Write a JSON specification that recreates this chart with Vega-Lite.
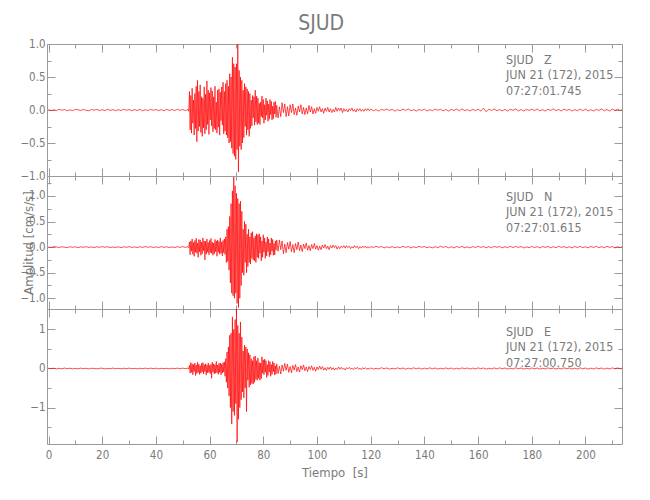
{
"$schema":"https://vega.github.io/schema/vega-lite/v6.json",
"padding":{"left":19,"top":12,"right":27,"bottom":20},
"bounds":"flush",
"title":{"text":"SJUD","anchor":"middle","fontSize":21,"font":"Liberation Sans Narrow, DejaVu Sans Condensed, Roboto Condensed, Liberation Sans, sans-serif","fontWeight":"normal","color":"#7a7a7a","offset":4},
"config":{
 "view":{"stroke":"#9a9a9a","strokeWidth":1},
 "axis":{"domain":false,"grid":false,"tickColor":"#9a9a9a","tickWidth":1,"labelColor":"#7a7a7a","labelFont":"Liberation Sans Narrow, DejaVu Sans Condensed, Roboto Condensed, Liberation Sans, sans-serif","labelFontSize":11.5,"titleFont":"Liberation Sans Narrow, DejaVu Sans Condensed, Roboto Condensed, Liberation Sans, sans-serif","titleFontSize":13,"titleFontWeight":"normal","titleColor":"#7a7a7a","labelFlush":false}
},
"spacing":0,
"data":{"values":[
{"t":0,"z":0.006,"n":0.004,"e":0.008},{"t":1,"z":-0.01,"n":-0.008,"e":-0.004},{"t":2,"z":0.003,"n":0.009,"e":0.006},{"t":3,"z":-0.008,"n":0.002,"e":-0.01},{"t":4,"z":0.012,"n":-0.007,"e":0.004},{"t":5,"z":-0.004,"n":0.006,"e":-0.008},{"t":6,"z":0.007,"n":-0.003,"e":0.011},{"t":7,"z":-0.011,"n":-0.009,"e":-0.005},{"t":8,"z":0.002,"n":0.008,"e":0.007},{"t":9,"z":-0.009,"n":-0.004,"e":-0.009},
{"t":10,"z":0.01,"n":0.006,"e":0.003},{"t":11,"z":0.003,"n":-0.01,"e":-0.008},{"t":12,"z":-0.007,"n":0.005,"e":0.009},{"t":13,"z":0.009,"n":-0.004,"e":-0.004},{"t":14,"z":-0.005,"n":0.008,"e":0.006},{"t":15,"z":-0.012,"n":-0.006,"e":-0.011},{"t":16,"z":0.008,"n":0.003,"e":0.005},{"t":17,"z":-0.004,"n":-0.009,"e":0.002},{"t":18,"z":0.01,"n":0.007,"e":-0.009},{"t":19,"z":-0.008,"n":-0.005,"e":0.004},
{"t":20,"z":0.004,"n":0.01,"e":0.008},{"t":21,"z":-0.009,"n":-0.003,"e":-0.01},{"t":22,"z":0.011,"n":0.007,"e":0.003},{"t":23,"z":-0.006,"n":-0.009,"e":-0.007},{"t":24,"z":0.007,"n":0.002,"e":0.01},{"t":25,"z":-0.01,"n":-0.007,"e":-0.005},{"t":26,"z":0.005,"n":0.006,"e":0.004},{"t":27,"z":-0.008,"n":-0.01,"e":-0.009},{"t":28,"z":0.012,"n":0.006,"e":0.007},{"t":29,"z":-0.004,"n":-0.004,"e":-0.006},
{"t":30,"z":0.008,"n":0.009,"e":0.01},{"t":31,"z":-0.01,"n":-0.006,"e":-0.008},{"t":32,"z":0.006,"n":0.004,"e":0.003},{"t":33,"z":-0.007,"n":-0.009,"e":-0.01},{"t":34,"z":0.009,"n":0.007,"e":0.006},{"t":35,"z":-0.011,"n":-0.005,"e":-0.004},{"t":36,"z":0.004,"n":0.01,"e":0.009},{"t":37,"z":-0.008,"n":-0.003,"e":-0.007},{"t":38,"z":0.01,"n":0.008,"e":0.009},{"t":39,"z":-0.005,"n":-0.008,"e":-0.005},
{"t":40,"z":0.008,"n":0.004,"e":0.008},{"t":41,"z":-0.009,"n":-0.007,"e":-0.01},{"t":42,"z":0.006,"n":0.009,"e":0.004},{"t":43,"z":-0.012,"n":-0.005,"e":-0.008},{"t":44,"z":0.01,"n":0.006,"e":0.006},{"t":45,"z":-0.006,"n":-0.01,"e":-0.011},{"t":46,"z":0.008,"n":0.004,"e":0.007},{"t":47,"z":-0.009,"n":-0.008,"e":-0.004},{"t":48,"z":0.011,"n":0.007,"e":0.009},{"t":49,"z":-0.005,"n":-0.005,"e":-0.006},
{"t":50,"z":0.007,"n":0.009,"e":0.008},{"t":51,"z":-0.01,"n":-0.006,"e":-0.005},{"t":52,"z":0.01,"n":0.01,"e":0.01},{"t":52.25,"z":-0.02,"n":-0.01,"e":-0.01},
{"t":52.5,"z":0.28,"n":0.1,"e":0.08},{"t":52.75,"z":-0.3,"n":-0.15,"e":-0.12},{"t":53,"z":0.22,"n":0.12,"e":0.15},{"t":53.25,"z":-0.35,"n":-0.08,"e":-0.1},{"t":53.5,"z":0.33,"n":0.16,"e":0.12},{"t":53.75,"z":-0.2,"n":-0.14,"e":-0.16},{"t":54,"z":0.15,"n":0.09,"e":0.1},{"t":54.25,"z":-0.38,"n":-0.18,"e":-0.08},{"t":54.5,"z":0.25,"n":0.13,"e":0.14},{"t":54.75,"z":-0.28,"n":-0.1,"e":-0.18},
{"t":55,"z":0.36,"n":0.17,"e":0.09},{"t":55.25,"z":-0.48,"n":-0.12,"e":-0.13},{"t":55.5,"z":0.45,"n":0.08,"e":0.16},{"t":55.75,"z":-0.32,"n":-0.2,"e":-0.1},{"t":56,"z":0.28,"n":0.15,"e":0.11},{"t":56.25,"z":-0.25,"n":-0.09,"e":-0.15},{"t":56.5,"z":0.38,"n":0.14,"e":0.07},{"t":56.75,"z":-0.34,"n":-0.16,"e":-0.12},{"t":57,"z":0.2,"n":0.1,"e":0.13},{"t":57.25,"z":-0.4,"n":-0.13,"e":-0.09},
{"t":57.5,"z":0.18,"n":0.18,"e":0.15},{"t":57.75,"z":-0.27,"n":-0.07,"e":-0.14},{"t":58,"z":0.35,"n":0.12,"e":0.1},{"t":58.25,"z":-0.36,"n":-0.25,"e":-0.08},{"t":58.5,"z":0.24,"n":0.11,"e":0.12},{"t":58.75,"z":-0.3,"n":-0.14,"e":-0.17},{"t":59,"z":0.44,"n":0.16,"e":0.09},{"t":59.25,"z":-0.22,"n":-0.1,"e":-0.11},{"t":59.5,"z":0.3,"n":0.09,"e":0.14},{"t":59.75,"z":-0.37,"n":-0.15,"e":-0.1},
{"t":60,"z":0.26,"n":0.13,"e":0.08},{"t":60.25,"z":-0.15,"n":-0.11,"e":-0.13},{"t":60.5,"z":0.34,"n":0.17,"e":0.11},{"t":60.75,"z":-0.24,"n":-0.12,"e":-0.25},{"t":61,"z":0.29,"n":0.1,"e":0.16},{"t":61.25,"z":-0.33,"n":-0.16,"e":-0.09},{"t":61.5,"z":0.2,"n":0.08,"e":0.12},{"t":61.75,"z":-0.28,"n":-0.13,"e":-0.14},{"t":62,"z":0.36,"n":0.15,"e":0.1},{"t":62.25,"z":-0.3,"n":-0.09,"e":-0.12},
{"t":62.5,"z":0.12,"n":0.12,"e":0.18},{"t":62.75,"z":-0.35,"n":-0.18,"e":-0.11},{"t":63,"z":0.3,"n":0.14,"e":0.09},{"t":63.25,"z":-0.26,"n":-0.1,"e":-0.15},{"t":63.5,"z":0.32,"n":0.11,"e":0.13},{"t":63.75,"z":-0.38,"n":-0.14,"e":-0.1},{"t":64,"z":0.27,"n":0.18,"e":0.14},{"t":64.25,"z":-0.16,"n":-0.12,"e":-0.16},{"t":64.5,"z":0.35,"n":0.1,"e":0.11},{"t":64.75,"z":-0.23,"n":-0.17,"e":-0.12},
{"t":65,"z":0.42,"n":0.13,"e":0.15},{"t":65.25,"z":-0.36,"n":-0.11,"e":-0.09},{"t":65.5,"z":0.28,"n":0.16,"e":0.17},{"t":65.75,"z":-0.32,"n":-0.14,"e":-0.2},
{"t":66,"z":0.4,"n":0.2,"e":0.25},{"t":66.25,"z":-0.38,"n":-0.3,"e":-0.35},{"t":66.5,"z":0.45,"n":0.35,"e":0.42},{"t":66.75,"z":-0.42,"n":-0.28,"e":-0.5},{"t":67,"z":0.36,"n":0.4,"e":0.55},{"t":67.25,"z":-0.5,"n":-0.45,"e":-0.7},{"t":67.5,"z":0.55,"n":0.6,"e":0.85},{"t":67.75,"z":-0.48,"n":-0.7,"e":-1.0},
{"t":68,"z":0.5,"n":0.85,"e":0.9},{"t":68.25,"z":-0.58,"n":-0.9,"e":-1.42},{"t":68.5,"z":0.8,"n":1.1,"e":1.32},{"t":68.75,"z":-0.66,"n":-0.95,"e":-1.1},{"t":69,"z":0.7,"n":1.37,"e":1.0},{"t":69.25,"z":-0.7,"n":-1.0,"e":-1.2},{"t":69.5,"z":0.65,"n":1.2,"e":1.25},{"t":69.75,"z":-0.75,"n":-0.9,"e":-0.9},
{"t":70,"z":0.7,"n":1.05,"e":1.55},{"t":70.25,"z":-0.6,"n":-1.1,"e":-1.88},{"t":70.5,"z":1.0,"n":0.95,"e":1.1},{"t":70.75,"z":-0.94,"n":-1.18,"e":-1.3},{"t":71,"z":0.6,"n":0.85,"e":0.9},{"t":71.25,"z":-0.55,"n":-1.0,"e":-1.0},{"t":71.5,"z":0.5,"n":0.9,"e":1.19},{"t":71.75,"z":-0.6,"n":-0.75,"e":-0.8},
{"t":72,"z":0.45,"n":0.7,"e":0.8},{"t":72.25,"z":-0.5,"n":-0.5,"e":-0.6},{"t":72.5,"z":0.3,"n":0.35,"e":0.45},{"t":72.75,"z":-0.42,"n":-0.55,"e":-0.75},{"t":73,"z":0.4,"n":0.5,"e":0.6},{"t":73.25,"z":-0.25,"n":-0.3,"e":-0.5},{"t":73.5,"z":0.35,"n":0.45,"e":0.55},{"t":73.75,"z":-0.38,"n":-0.5,"e":-1.1},{"t":74,"z":0.32,"n":0.25,"e":0.5},
{"t":74.25,"z":-0.3,"n":-0.38,"e":-0.3},{"t":74.5,"z":0.28,"n":0.35,"e":0.4},{"t":74.75,"z":-0.4,"n":-0.3,"e":-0.48},{"t":75,"z":0.25,"n":0.2,"e":0.35},{"t":75.25,"z":-0.28,"n":-0.33,"e":-0.42},{"t":75.5,"z":0.15,"n":0.28,"e":0.25},{"t":75.75,"z":-0.24,"n":-0.22,"e":-0.38},{"t":76,"z":0.22,"n":0.3,"e":0.2},
{"t":76.25,"z":-0.12,"n":-0.25,"e":-0.4},{"t":76.5,"z":0.2,"n":0.18,"e":0.3},{"t":76.75,"z":-0.23,"n":-0.27,"e":-0.35},{"t":77,"z":0.3,"n":0.22,"e":0.32},{"t":77.25,"z":-0.18,"n":-0.3,"e":-0.28},{"t":77.5,"z":0.21,"n":0.26,"e":0.2},{"t":77.75,"z":-0.22,"n":-0.2,"e":-0.3},{"t":78,"z":0.18,"n":0.24,"e":0.27},
{"t":78.25,"z":-0.2,"n":-0.22,"e":-0.25},{"t":78.5,"z":0.1,"n":0.26,"e":0.15},{"t":78.75,"z":-0.22,"n":-0.12,"e":-0.3},{"t":79,"z":0.12,"n":0.2,"e":0.14},{"t":79.25,"z":-0.1,"n":-0.27,"e":-0.26},{"t":79.5,"z":0.21,"n":0.12,"e":0.3},{"t":79.75,"z":-0.12,"n":-0.2,"e":-0.12},{"t":80,"z":0.16,"n":0.24,"e":0.22},
{"t":80.25,"z":-0.2,"n":-0.1,"e":-0.16},{"t":80.5,"z":0.08,"n":0.18,"e":0.24},{"t":80.75,"z":-0.15,"n":-0.22,"e":-0.1},{"t":81,"z":0.18,"n":0.1,"e":0.2},{"t":81.25,"z":-0.08,"n":-0.17,"e":-0.23},{"t":81.5,"z":0.14,"n":0.2,"e":0.1},{"t":81.75,"z":-0.17,"n":-0.09,"e":-0.18},{"t":82,"z":0.09,"n":0.16,"e":0.2},
{"t":82.25,"z":-0.14,"n":-0.19,"e":-0.09},{"t":82.5,"z":0.16,"n":0.08,"e":0.17},{"t":82.75,"z":-0.07,"n":-0.15,"e":-0.2},{"t":83,"z":0.13,"n":0.18,"e":0.1},{"t":83.25,"z":-0.15,"n":-0.08,"e":-0.15},{"t":83.5,"z":0.06,"n":0.15,"e":0.18},{"t":83.75,"z":-0.13,"n":-0.16,"e":-0.08},{"t":84,"z":0.12,"n":0.07,"e":0.14},
{"t":84.25,"z":-0.06,"n":-0.15,"e":-0.17},{"t":84.5,"z":0.13,"n":0.12,"e":0.07},{"t":84.75,"z":-0.11,"n":-0.06,"e":-0.14},{"t":85,"z":0.07,"n":0.14,"e":0.12},
{"t":85.5,"z":-0.12,"n":-0.08,"e":-0.13},{"t":86,"z":0.05,"n":0.14,"e":0.06},{"t":86.5,"z":-0.1,"n":-0.05,"e":-0.14},{"t":87,"z":0.11,"n":0.12,"e":0.09},{"t":87.5,"z":-0.04,"n":-0.13,"e":-0.07},{"t":88,"z":0.09,"n":0.06,"e":0.13},{"t":88.5,"z":-0.1,"n":-0.11,"e":-0.05},{"t":89,"z":0.05,"n":0.09,"e":0.11},{"t":89.5,"z":-0.09,"n":-0.04,"e":-0.1},
{"t":90,"z":0.08,"n":0.11,"e":0.05},{"t":90.5,"z":-0.04,"n":-0.09,"e":-0.11},{"t":91,"z":0.09,"n":0.05,"e":0.08},{"t":91.5,"z":-0.07,"n":-0.11,"e":-0.04},{"t":92,"z":0.03,"n":0.07,"e":0.1},{"t":92.5,"z":-0.08,"n":-0.05,"e":-0.08},{"t":93,"z":0.06,"n":0.1,"e":0.04},{"t":93.5,"z":-0.03,"n":-0.07,"e":-0.09},{"t":94,"z":0.08,"n":0.04,"e":0.07},{"t":94.5,"z":-0.06,"n":-0.09,"e":-0.03},
{"t":95,"z":0.04,"n":0.06,"e":0.09},{"t":95.5,"z":-0.07,"n":-0.03,"e":-0.06},{"t":96,"z":0.03,"n":0.08,"e":0.04},{"t":96.5,"z":-0.06,"n":-0.06,"e":-0.08},{"t":97,"z":0.07,"n":0.03,"e":0.05},{"t":97.5,"z":-0.03,"n":-0.07,"e":-0.03},{"t":98,"z":0.05,"n":0.05,"e":0.07},{"t":98.5,"z":-0.06,"n":-0.03,"e":-0.05},{"t":99,"z":0.02,"n":0.07,"e":0.03},{"t":99.5,"z":-0.05,"n":-0.04,"e":-0.07},
{"t":100,"z":0.04,"n":0.03,"e":0.04},{"t":100.5,"z":-0.02,"n":-0.06,"e":-0.03},{"t":101,"z":0.05,"n":0.02,"e":0.06},{"t":101.5,"z":-0.03,"n":-0.05,"e":-0.02},{"t":102,"z":0.02,"n":0.04,"e":0.05},{"t":102.5,"z":-0.05,"n":-0.02,"e":-0.04},{"t":103,"z":0.03,"n":0.05,"e":0.02},{"t":103.5,"z":-0.02,"n":-0.03,"e":-0.05},{"t":104,"z":0.04,"n":0.02,"e":0.03},{"t":104.5,"z":-0.03,"n":-0.05,"e":-0.02},
{"t":105,"z":0.02,"n":0.03,"e":0.04},{"t":105.5,"z":-0.04,"n":-0.02,"e":-0.03},{"t":106,"z":0.01,"n":0.04,"e":0.02},{"t":106.5,"z":-0.03,"n":-0.01,"e":-0.04},{"t":107,"z":0.04,"n":0.03,"e":0.01},{"t":107.5,"z":-0.02,"n":-0.04,"e":-0.03},{"t":108,"z":0.03,"n":0.01,"e":0.04},{"t":108.5,"z":-0.01,"n":-0.03,"e":-0.02},{"t":109,"z":0.03,"n":0.02,"e":0.03},{"t":109.5,"z":-0.04,"n":-0.01,"e":-0.02},
{"t":110,"z":0.02,"n":0.03,"e":0.01},{"t":110.5,"z":-0.02,"n":-0.02,"e":-0.04},{"t":111,"z":0.01,"n":0.03,"e":0.02},{"t":111.5,"z":-0.03,"n":-0.01,"e":-0.01},{"t":112,"z":0.02,"n":0.02,"e":0.03},{"t":112.5,"z":-0.01,"n":-0.03,"e":-0.02},{"t":113,"z":0.03,"n":0.01,"e":0.01},{"t":113.5,"z":-0.02,"n":-0.02,"e":-0.03},{"t":114,"z":0.01,"n":0.03,"e":0.02},{"t":114.5,"z":-0.03,"n":-0.01,"e":-0.01},
{"t":115,"z":0.02,"n":0.02,"e":0.03},{"t":115.5,"z":-0.01,"n":-0.03,"e":-0.02},{"t":116,"z":0.02,"n":0.01,"e":0.01},{"t":116.5,"z":-0.02,"n":-0.02,"e":-0.03},{"t":117,"z":0.01,"n":0.02,"e":0.02},{"t":117.5,"z":-0.02,"n":-0.01,"e":-0.01},{"t":118,"z":0.02,"n":0.02,"e":0.02},{"t":118.5,"z":-0.01,"n":-0.02,"e":-0.02},{"t":119,"z":0.02,"n":0.01,"e":0.01},{"t":119.5,"z":-0.01,"n":-0.02,"e":-0.02},
{"t":120,"z":0.015,"n":0.01,"e":0.015},{"t":121,"z":-0.012,"n":-0.008,"e":-0.015},{"t":122,"z":0.006,"n":0.014,"e":0.004},{"t":123,"z":-0.016,"n":-0.004,"e":-0.012},{"t":124,"z":0.01,"n":0.012,"e":0.018},{"t":125,"z":-0.004,"n":-0.015,"e":-0.006},{"t":126,"z":0.015,"n":0.005,"e":0.013},{"t":127,"z":-0.008,"n":-0.011,"e":-0.016},{"t":128,"z":0.012,"n":0.009,"e":0.005},{"t":129,"z":-0.017,"n":-0.013,"e":-0.011},
{"t":130,"z":0.005,"n":0.004,"e":0.015},{"t":131,"z":-0.01,"n":-0.012,"e":-0.006},{"t":132,"z":0.014,"n":0.015,"e":0.012},{"t":133,"z":-0.006,"n":-0.005,"e":-0.017},{"t":134,"z":0.016,"n":0.011,"e":0.008},{"t":135,"z":-0.011,"n":-0.016,"e":-0.013},{"t":136,"z":0.004,"n":0.007,"e":0.016},{"t":137,"z":-0.015,"n":-0.01,"e":-0.005},{"t":138,"z":0.009,"n":0.014,"e":0.012},{"t":139,"z":-0.007,"n":-0.004,"e":-0.015},
{"t":140,"z":0.013,"n":0.011,"e":0.009},{"t":141,"z":-0.016,"n":-0.013,"e":-0.011},{"t":142,"z":0.006,"n":0.006,"e":0.017},{"t":143,"z":-0.01,"n":-0.015,"e":-0.007},{"t":144,"z":0.015,"n":0.009,"e":0.013},{"t":145,"z":-0.005,"n":-0.011,"e":-0.016},{"t":146,"z":0.012,"n":0.016,"e":0.006},{"t":147,"z":-0.014,"n":-0.006,"e":-0.012},{"t":148,"z":0.008,"n":0.012,"e":0.015},{"t":149,"z":-0.016,"n":-0.014,"e":-0.009},
{"t":150,"z":0.01,"n":0.008,"e":0.012},{"t":151,"z":-0.006,"n":-0.016,"e":-0.017},{"t":152,"z":0.014,"n":0.011,"e":0.007},{"t":153,"z":-0.012,"n":-0.007,"e":-0.013},{"t":154,"z":0.016,"n":0.014,"e":0.016},{"t":155,"z":-0.008,"n":-0.012,"e":-0.006},{"t":156,"z":0.005,"n":0.005,"e":0.012},{"t":157,"z":-0.015,"n":-0.016,"e":-0.015},{"t":158,"z":0.011,"n":0.011,"e":0.009},{"t":159,"z":-0.009,"n":-0.009,"e":-0.012},
{"t":160,"z":0.013,"n":0.015,"e":0.016},{"t":161,"z":-0.016,"n":-0.006,"e":-0.008},{"t":162,"z":0.028,"n":0.012,"e":0.013},{"t":163,"z":-0.026,"n":-0.014,"e":-0.017},{"t":164,"z":0.012,"n":0.009,"e":0.006},{"t":165,"z":-0.006,"n":-0.013,"e":-0.012},{"t":166,"z":0.015,"n":0.016,"e":0.015},{"t":167,"z":-0.01,"n":-0.005,"e":-0.009},{"t":168,"z":0.006,"n":0.012,"e":0.016},{"t":169,"z":-0.013,"n":-0.014,"e":-0.007},
{"t":170,"z":0.009,"n":0.007,"e":0.013},{"t":171,"z":-0.015,"n":-0.011,"e":-0.015},{"t":172,"z":0.012,"n":0.016,"e":0.009},{"t":173,"z":-0.005,"n":-0.009,"e":-0.012},{"t":174,"z":0.016,"n":0.013,"e":0.017},{"t":175,"z":-0.012,"n":-0.006,"e":-0.006},{"t":176,"z":0.007,"n":0.011,"e":0.012},{"t":177,"z":-0.016,"n":-0.016,"e":-0.016},{"t":178,"z":0.011,"n":0.005,"e":0.008},{"t":179,"z":-0.007,"n":-0.012,"e":-0.014},
{"t":180,"z":0.013,"n":0.014,"e":0.015},{"t":181,"z":-0.009,"n":-0.01,"e":-0.01},{"t":182,"z":0.015,"n":0.008,"e":0.012},{"t":183,"z":-0.013,"n":-0.016,"e":-0.017},{"t":184,"z":0.005,"n":0.012,"e":0.006},{"t":185,"z":-0.016,"n":-0.006,"e":-0.012},{"t":186,"z":0.012,"n":0.013,"e":0.015},{"t":187,"z":-0.006,"n":-0.014,"e":-0.007},{"t":188,"z":0.016,"n":0.008,"e":0.013},{"t":189,"z":-0.01,"n":-0.012,"e":-0.016},
{"t":190,"z":0.008,"n":0.016,"e":0.009},{"t":191,"z":-0.015,"n":-0.005,"e":-0.012},{"t":192,"z":0.013,"n":0.01,"e":0.017},{"t":193,"z":-0.005,"n":-0.013,"e":-0.006},{"t":194,"z":0.01,"n":0.007,"e":0.012},{"t":195,"z":-0.016,"n":-0.016,"e":-0.015},{"t":196,"z":0.007,"n":0.012,"e":0.008},{"t":197,"z":-0.012,"n":-0.009,"e":-0.014},{"t":198,"z":0.015,"n":0.015,"e":0.016},{"t":199,"z":-0.009,"n":-0.01,"e":-0.009},
{"t":200,"z":0.012,"n":0.006,"e":0.012},{"t":201,"z":-0.014,"n":-0.014,"e":-0.017},{"t":202,"z":0.005,"n":0.012,"e":0.008},{"t":203,"z":-0.016,"n":-0.007,"e":-0.014},{"t":204,"z":0.01,"n":0.016,"e":0.015},{"t":205,"z":-0.007,"n":-0.011,"e":-0.006},{"t":206,"z":0.016,"n":0.008,"e":0.012},{"t":207,"z":-0.012,"n":-0.013,"e":-0.016},{"t":208,"z":0.008,"n":0.015,"e":0.01},{"t":209,"z":-0.015,"n":-0.005,"e":-0.012},
{"t":210,"z":0.013,"n":0.011,"e":0.015},{"t":211,"z":-0.006,"n":-0.016,"e":-0.008},{"t":212,"z":0.011,"n":0.008,"e":0.014},{"t":213,"z":-0.009,"n":-0.012,"e":-0.012},{"t":213.6,"z":0.006,"n":0.008,"e":0.009}
]},
"vconcat":[
{"width":575,"height":132,
 "layer":[
  {"mark":{"type":"line","color":"#ff0000","strokeWidth":0.7,"clip":true},
   "encoding":{
    "x":{"field":"t","type":"quantitative","scale":{"domain":[-0.56,213.6],"nice":false,"zero":false},"axis":{"orient":"bottom","values":[0,20,40,60,80,100,120,140,160,180,200],"tickSize":-8,"labels":false,"title":null}},
    "y":{"field":"z","type":"quantitative","scale":{"domain":[-1,1],"nice":false,"zero":false},"axis":{"orient":"left","values":[-1,-0.5,0,0.5,1],"format":".1f","tickSize":-8,"labelPadding":10,"title":null}}}},
  {"mark":{"type":"line","opacity":0,"clip":true},
   "encoding":{
    "x":{"field":"t","type":"quantitative","axis":{"orient":"bottom","values":[10,30,50,70,90,110,130,150,170,190,210],"tickSize":-4,"labels":false,"title":null}},
    "y":{"field":"z","type":"quantitative","axis":{"orient":"left","values":[-0.75,-0.25,0.25,0.75],"tickSize":-4,"labels":false,"title":null}}}},
  {"mark":{"type":"line","opacity":0,"clip":true},
   "encoding":{
    "x":{"field":"t","type":"quantitative","axis":{"orient":"top","values":[0,20,40,60,80,100,120,140,160,180,200],"tickSize":-8,"labels":false,"title":null}},
    "y":{"field":"z","type":"quantitative","axis":{"orient":"right","values":[-1,-0.5,0,0.5,1],"tickSize":-8,"labels":false,"title":null}}}},
  {"mark":{"type":"line","opacity":0,"clip":true},
   "encoding":{
    "x":{"field":"t","type":"quantitative","axis":{"orient":"top","values":[10,30,50,70,90,110,130,150,170,190,210],"tickSize":-4,"labels":false,"title":null}},
    "y":{"field":"z","type":"quantitative","axis":{"orient":"right","values":[-0.75,-0.25,0.25,0.75],"tickSize":-4,"labels":false,"title":null}}}},
  {"data":{"values":[{"lbl":"SJUD\u00a0\u00a0\u00a0Z\nJUN 21 (172), 2015\n07:27:01.745"}]},
   "mark":{"type":"text","align":"left","baseline":"top","font":"Liberation Sans Narrow, DejaVu Sans Condensed, Roboto Condensed, Liberation Sans, sans-serif","fontSize":12.5,"lineHeight":15.5,"lineBreak":"\n","color":"#7a7a7a"},
   "encoding":{"x":{"datum":170.4,"type":"quantitative","axis":null},"y":{"datum":0.85,"type":"quantitative","axis":null},"text":{"field":"lbl"}}}
 ],
 "resolve":{"axis":{"x":"independent","y":"independent"}}
},
{"width":575,"height":133,
 "layer":[
  {"mark":{"type":"line","color":"#ff0000","strokeWidth":0.7,"clip":true},
   "encoding":{
    "x":{"field":"t","type":"quantitative","scale":{"domain":[-0.56,213.6],"nice":false,"zero":false},"axis":{"orient":"bottom","values":[0,20,40,60,80,100,120,140,160,180,200],"tickSize":-8,"labels":false,"title":null}},
    "y":{"field":"n","type":"quantitative","scale":{"domain":[-1.21,1.39],"nice":false,"zero":false},"axis":{"orient":"left","values":[-1,-0.5,0,0.5,1],"format":".1f","tickSize":-8,"labelPadding":10,"title":"Amplitud [cm/s/s]","titlePadding":-16}}}},
  {"mark":{"type":"line","opacity":0,"clip":true},
   "encoding":{
    "x":{"field":"t","type":"quantitative","axis":{"orient":"bottom","values":[10,30,50,70,90,110,130,150,170,190,210],"tickSize":-4,"labels":false,"title":null}},
    "y":{"field":"n","type":"quantitative","axis":{"orient":"left","values":[-0.75,-0.25,0.25,0.75,1.25],"tickSize":-4,"labels":false,"title":null}}}},
  {"mark":{"type":"line","opacity":0,"clip":true},
   "encoding":{
    "x":{"field":"t","type":"quantitative","axis":{"orient":"top","values":[0,20,40,60,80,100,120,140,160,180,200],"tickSize":-8,"labels":false,"title":null}},
    "y":{"field":"n","type":"quantitative","axis":{"orient":"right","values":[-1,-0.5,0,0.5,1],"tickSize":-8,"labels":false,"title":null}}}},
  {"mark":{"type":"line","opacity":0,"clip":true},
   "encoding":{
    "x":{"field":"t","type":"quantitative","axis":{"orient":"top","values":[10,30,50,70,90,110,130,150,170,190,210],"tickSize":-4,"labels":false,"title":null}},
    "y":{"field":"n","type":"quantitative","axis":{"orient":"right","values":[-0.75,-0.25,0.25,0.75,1.25],"tickSize":-4,"labels":false,"title":null}}}},
  {"data":{"values":[{"lbl":"SJUD\u00a0\u00a0\u00a0N\nJUN 21 (172), 2015\n07:27:01.615"}]},
   "mark":{"type":"text","align":"left","baseline":"top","font":"Liberation Sans Narrow, DejaVu Sans Condensed, Roboto Condensed, Liberation Sans, sans-serif","fontSize":12.5,"lineHeight":15.5,"lineBreak":"\n","color":"#7a7a7a"},
   "encoding":{"x":{"datum":170.4,"type":"quantitative","axis":null},"y":{"datum":1.1,"type":"quantitative","axis":null},"text":{"field":"lbl"}}}
 ],
 "resolve":{"axis":{"x":"independent","y":"independent"}}
},
{"width":575,"height":135,
 "layer":[
  {"mark":{"type":"line","color":"#ff0000","strokeWidth":0.7,"clip":true},
   "encoding":{
    "x":{"field":"t","type":"quantitative","scale":{"domain":[-0.56,213.6],"nice":false,"zero":false},"axis":{"orient":"bottom","values":[0,20,40,60,80,100,120,140,160,180,200],"format":"d","tickSize":-8,"labelPadding":13,"title":"Tiempo\u00a0\u00a0[s]","titlePadding":6}},
    "y":{"field":"e","type":"quantitative","scale":{"domain":[-1.93,1.52],"nice":false,"zero":false},"axis":{"orient":"left","values":[-1,0,1],"format":"d","tickSize":-8,"labelPadding":10,"title":null}}}},
  {"mark":{"type":"line","opacity":0,"clip":true},
   "encoding":{
    "x":{"field":"t","type":"quantitative","axis":{"orient":"bottom","values":[10,30,50,70,90,110,130,150,170,190,210],"tickSize":-4,"labels":false,"title":null}},
    "y":{"field":"e","type":"quantitative","axis":{"orient":"left","values":[-1.5,-0.5,0.5],"tickSize":-4,"labels":false,"title":null}}}},
  {"mark":{"type":"line","opacity":0,"clip":true},
   "encoding":{
    "x":{"field":"t","type":"quantitative","axis":{"orient":"top","values":[0,20,40,60,80,100,120,140,160,180,200],"tickSize":-8,"labels":false,"title":null}},
    "y":{"field":"e","type":"quantitative","axis":{"orient":"right","values":[-1,0,1],"tickSize":-8,"labels":false,"title":null}}}},
  {"mark":{"type":"line","opacity":0,"clip":true},
   "encoding":{
    "x":{"field":"t","type":"quantitative","axis":{"orient":"top","values":[10,30,50,70,90,110,130,150,170,190,210],"tickSize":-4,"labels":false,"title":null}},
    "y":{"field":"e","type":"quantitative","axis":{"orient":"right","values":[-1.5,-0.5,0.5],"tickSize":-4,"labels":false,"title":null}}}},
  {"data":{"values":[{"lbl":"SJUD\u00a0\u00a0\u00a0E\nJUN 21 (172), 2015\n07:27:00.750"}]},
   "mark":{"type":"text","align":"left","baseline":"top","font":"Liberation Sans Narrow, DejaVu Sans Condensed, Roboto Condensed, Liberation Sans, sans-serif","fontSize":12.5,"lineHeight":15.5,"lineBreak":"\n","color":"#7a7a7a"},
   "encoding":{"x":{"datum":170.4,"type":"quantitative","axis":null},"y":{"datum":1.09,"type":"quantitative","axis":null},"text":{"field":"lbl"}}}
 ],
 "resolve":{"axis":{"x":"independent","y":"independent"}}
}
]
}
